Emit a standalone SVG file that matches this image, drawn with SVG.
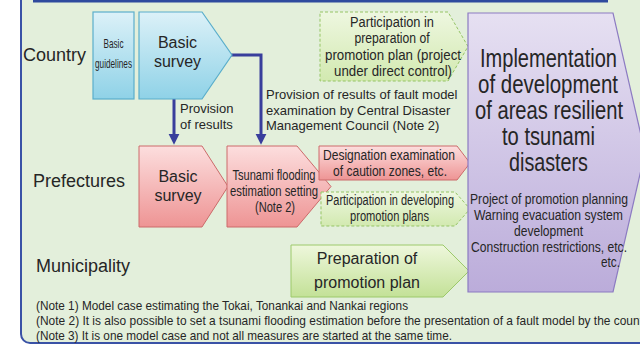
<svg xmlns="http://www.w3.org/2000/svg" width="640" height="344" viewBox="0 0 640 344">
<defs>
<linearGradient id="gBlue" x1="0" y1="0" x2="0" y2="1"><stop offset="0" stop-color="#dcf1f8"/><stop offset="1" stop-color="#8fd2e7"/></linearGradient>
<linearGradient id="gPink" x1="0" y1="0" x2="0" y2="1"><stop offset="0" stop-color="#fcdede"/><stop offset="1" stop-color="#ee9494"/></linearGradient>
<linearGradient id="gGreen" x1="0" y1="0" x2="0" y2="1"><stop offset="0" stop-color="#eef7dc"/><stop offset="1" stop-color="#c3e197"/></linearGradient>
<linearGradient id="gGreenL" x1="0" y1="0" x2="0" y2="1"><stop offset="0" stop-color="#eef7e0"/><stop offset="1" stop-color="#d2e9b0"/></linearGradient>
<linearGradient id="gPurple" x1="0" y1="0" x2="0" y2="1"><stop offset="0" stop-color="#e6e0f2"/><stop offset="1" stop-color="#bbacda"/></linearGradient>
<marker id="ah" viewBox="0 0 10 10" refX="3" refY="5" markerWidth="3.7" markerHeight="3.7" markerUnits="strokeWidth" orient="auto"><path d="M0,0 L10,5 L0,10 z" fill="#393e9c"/></marker>
</defs>
<style>
text{font-family:"Liberation Sans",Arial,sans-serif;fill:#262626}
.lbl{font-size:18px}
.b16{font-size:16px;text-anchor:middle}
.n{font-size:14px;text-anchor:middle}
.n15{font-size:15px;text-anchor:middle}
.big{font-size:25px;text-anchor:middle}
.t13{font-size:13px}
.blue{fill:url(#gBlue);stroke:#5aaecb;stroke-width:1.2}
.pink{fill:url(#gPink);stroke:#cc6a6a;stroke-width:1}
.green{fill:url(#gGreen);stroke:#9cc96a;stroke-width:1}
.dash{fill:url(#gGreenL);stroke:#95c465;stroke-width:1;stroke-dasharray:3,2}
.purple{fill:url(#gPurple);stroke:#8c7bc2;stroke-width:1.2}
.conn{fill:none;stroke:#393e9c;stroke-width:3}
</style>
<rect x="0" y="0" width="640" height="344" fill="#ffffff"/>
<rect id="panel" x="21" y="-30" width="650" height="373" rx="9" fill="#e3efdb" stroke="#3a52a6" stroke-width="2"/>
<rect id="header" x="33" y="-6" width="575" height="8.5" fill="#2f4a9e"/>

<g id="row-labels">
<text class="lbl" x="23" y="61">Country</text>
<text class="lbl" x="33" y="187">Prefectures</text>
<text class="lbl" x="36" y="272">Municipality</text>
</g>

<g id="connectors">
<path class="conn" d="M174,99 V137" marker-end="url(#ah)"/>
<path class="conn" d="M231,55 H261 V137" marker-end="url(#ah)"/>
<text class="t13" x="180" y="113">Provision</text>
<text class="t13" x="180" y="129">of results</text>
<text class="t13" x="266" y="99">Provision of results of fault model</text>
<text class="t13" x="266" y="115">examination by Central Disaster</text>
<text class="t13" x="266" y="130">Management Council (Note 2)</text>
</g>

<g id="basic-guidelines">
<rect class="blue" x="93" y="12" width="41" height="87"/>
<text class="n" style="font-size:12px" transform="translate(113.5,48) scale(0.82,1)" textLength="24.4" lengthAdjust="spacingAndGlyphs">Basic</text>
<text class="n" style="font-size:12px" transform="translate(113.5,68) scale(0.82,1)" textLength="45.1" lengthAdjust="spacingAndGlyphs">guidelines</text>
</g>

<g id="country-basic-survey">
<path class="blue" d="M139,12 H202 L232,55 L202,99 H139 Z"/>
<text class="b16" x="177.5" y="48">Basic</text>
<text class="b16" x="177.5" y="67">survey</text>
</g>

<g id="pref-basic-survey">
<path class="pink" d="M139,146 H202 L228,186.5 L202,227 H139 Z"/>
<text class="b16" x="178" y="182">Basic</text>
<text class="b16" x="178" y="201">survey</text>
</g>

<g id="tsunami-setting">
<path class="pink" d="M227,146 H297 L331,186.5 L297,227 H227 Z"/>
<text class="n" transform="translate(274,180) scale(0.82,1)" textLength="101.2" lengthAdjust="spacingAndGlyphs">Tsunami flooding</text>
<text class="n" transform="translate(274,196) scale(0.82,1)" textLength="107.3" lengthAdjust="spacingAndGlyphs">estimation setting</text>
<text class="n" transform="translate(275,212) scale(0.82,1)" textLength="48.8" lengthAdjust="spacingAndGlyphs">(Note 2)</text>
</g>

<g id="participation-direct">
<path class="dash" d="M320,12 H448 L468,46.5 L448,81 H320 Z"/>
<text class="n15" transform="translate(392,27) scale(0.82,1)" textLength="102.4" lengthAdjust="spacingAndGlyphs">Participation in</text>
<text class="n15" transform="translate(392,43) scale(0.82,1)" textLength="91.5" lengthAdjust="spacingAndGlyphs">preparation of</text>
<text class="n15" transform="translate(393,60) scale(0.82,1)" textLength="165.9" lengthAdjust="spacingAndGlyphs">promotion plan (project</text>
<text class="n15" transform="translate(393,76) scale(0.82,1)" textLength="143.9" lengthAdjust="spacingAndGlyphs">under direct control)</text>
</g>

<g id="designation">
<path class="pink" d="M319,146 H457 L470,163 L457,180 H319 Z"/>
<text class="n15" transform="translate(389,160) scale(0.82,1)" textLength="161" lengthAdjust="spacingAndGlyphs">Designation examination</text>
<text class="n15" transform="translate(390,176) scale(0.82,1)" textLength="139" lengthAdjust="spacingAndGlyphs">of caution zones, etc.</text>
</g>

<g id="participation-developing">
<path class="dash" d="M321,192 H455 L470,209 L455,226 H321 Z"/>
<text class="n15" transform="translate(390,205) scale(0.82,1)" textLength="156.1" lengthAdjust="spacingAndGlyphs">Participation in developing</text>
<text class="n15" transform="translate(389.5,221) scale(0.82,1)" textLength="96.3" lengthAdjust="spacingAndGlyphs">promotion plans</text>
</g>

<g id="preparation-plan">
<path class="green" d="M291,245 H443 L469,271 L443,297 H291 Z"/>
<text class="b16" x="367" y="264">Preparation of</text>
<text class="b16" x="367" y="288">promotion plan</text>
</g>

<g id="implementation">
<path class="purple" d="M468,13 H613 L645,152.5 L613,292 H468 Z"/>
<text class="big" transform="translate(548.5,67) scale(0.82,1)" textLength="167.1" lengthAdjust="spacingAndGlyphs">Implementation</text>
<text class="big" transform="translate(548,93) scale(0.82,1)" textLength="170.7" lengthAdjust="spacingAndGlyphs">of development</text>
<text class="big" transform="translate(549,119) scale(0.82,1)" textLength="180.5" lengthAdjust="spacingAndGlyphs">of areas resilient</text>
<text class="big" transform="translate(548.5,145) scale(0.82,1)" textLength="113.4" lengthAdjust="spacingAndGlyphs">to tsunami</text>
<text class="big" transform="translate(548.5,171) scale(0.82,1)" textLength="96.3" lengthAdjust="spacingAndGlyphs">disasters</text>
<text class="n" transform="translate(549,204) scale(0.82,1)" textLength="192.7" lengthAdjust="spacingAndGlyphs">Project of promotion planning</text>
<text class="n" transform="translate(548.5,220) scale(0.82,1)" textLength="181.7" lengthAdjust="spacingAndGlyphs">Warning evacuation system</text>
<text class="n" transform="translate(548.5,236) scale(0.82,1)" textLength="84.1" lengthAdjust="spacingAndGlyphs">development</text>
<text class="n" transform="translate(549,252) scale(0.82,1)" textLength="190.2" lengthAdjust="spacingAndGlyphs">Construction restrictions, etc.</text>
<text class="n" style="text-anchor:end" transform="translate(620,267) scale(0.82,1)" textLength="23.2" lengthAdjust="spacingAndGlyphs">etc.</text>
</g>

<g id="notes">
<text class="t13" transform="translate(36,310) scale(0.82,1)" textLength="453.7" lengthAdjust="spacingAndGlyphs">(Note 1) Model case estimating the Tokai, Tonankai and Nankai regions</text>
<text class="t13" transform="translate(36,325) scale(0.82,1)" textLength="740.2" lengthAdjust="spacingAndGlyphs">(Note 2) It is also possible to set a tsunami flooding estimation before the presentation of a fault model by the count</text>
<text class="t13" transform="translate(36,340) scale(0.82,1)" textLength="507.3" lengthAdjust="spacingAndGlyphs">(Note 3) It is one model case and not all measures are started at the same time.</text>
</g>
</svg>
